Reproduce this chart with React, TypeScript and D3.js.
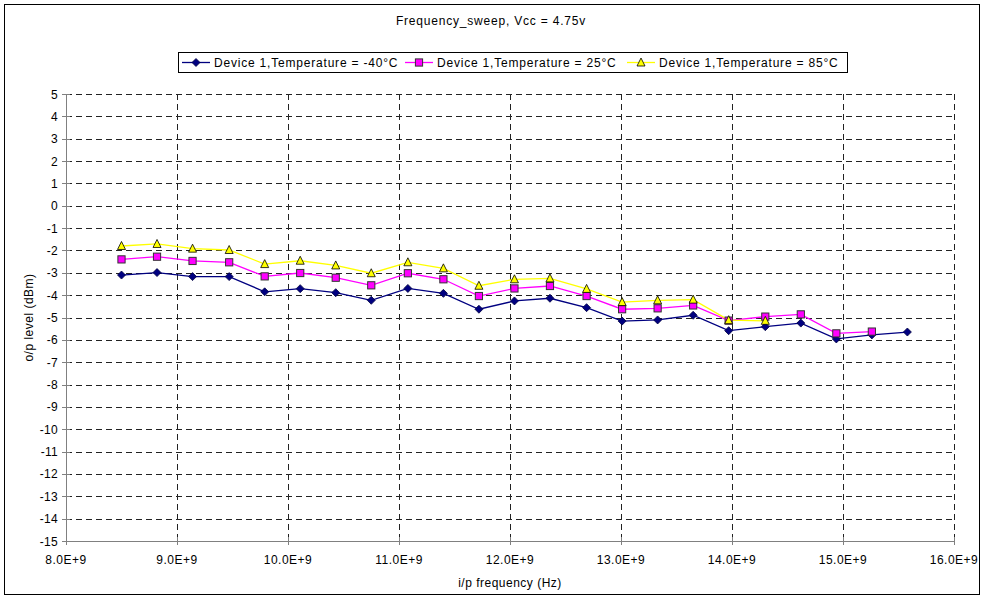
import React from "react";
import * as d3 from "d3";

const W = 982;
const H = 597;

// Input frequencies in GHz (plotted as Hz on the axis)
const freqGHz = [
  8.5, 8.82, 9.14, 9.47, 9.79, 10.11, 10.43, 10.75, 11.08, 11.4, 11.72, 12.04,
  12.36, 12.69, 13.01, 13.33, 13.65, 13.97, 14.3, 14.62, 14.94, 15.26, 15.58,
];

const tempMinus40 = [
  -3.1, -2.99, -3.17, -3.17, -3.85, -3.71, -3.89, -4.23, -3.7, -3.92, -4.63,
  -4.26, -4.14, -4.56, -5.16, -5.11, -4.9, -5.59, -5.41, -5.25, -5.96, -5.78,
  -5.65,
];

const temp25 = [
  -2.4, -2.28, -2.47, -2.53, -3.16, -3.01, -3.22, -3.56, -3.02, -3.29, -4.04,
  -3.7, -3.59, -4.04, -4.63, -4.59, -4.46, -5.14, -4.96, -4.86, -5.71, -5.63,
];

const temp85 = [
  -1.8, -1.71, -1.92, -1.98, -2.61, -2.46, -2.67, -3.02, -2.53, -2.8, -3.58,
  -3.29, -3.25, -3.72, -4.31, -4.23, -4.2, -5.12, -5.15,
];

const yTicks = d3.range(-15, 6, 1);
const xTicksGHz = d3.range(8, 17, 1);

const margin = { left: 66, right: W - 954, top: 94, bottom: H - 541 };

type Series = {
  name: string;
  values: number[];
  line: string;
  fill: string;
  stroke: string;
  marker: "diamond" | "square" | "triangle";
};

const series: Series[] = [
  {
    name: "Device 1,Temperature = -40°C",
    values: tempMinus40,
    line: "#000080",
    fill: "#000080",
    stroke: "#000040",
    marker: "diamond",
  },
  {
    name: "Device 1,Temperature = 25°C",
    values: temp25,
    line: "#FF00FF",
    fill: "#FF00FF",
    stroke: "#333333",
    marker: "square",
  },
  {
    name: "Device 1,Temperature = 85°C",
    values: temp85,
    line: "#FFFF00",
    fill: "#FFFF00",
    stroke: "#000000",
    marker: "triangle",
  },
];

function Marker({ kind, x, y, fill, stroke }: { kind: string; x: number; y: number; fill: string; stroke: string }) {
  if (kind === "diamond") {
    const r = 4;
    return (
      <path
        d={`M${x},${y - r}L${x + r},${y}L${x},${y + r}L${x - r},${y}Z`}
        fill={fill}
        stroke={stroke}
        strokeWidth={0.8}
      />
    );
  }
  if (kind === "square") {
    const r = 3.6;
    return (
      <rect x={x - r} y={y - r} width={2 * r} height={2 * r} fill={fill} stroke={stroke} strokeWidth={1} />
    );
  }
  const r = 4;
  return (
    <path
      d={`M${x},${y - r - 0.5}L${x + r},${y + r - 0.5}L${x - r},${y + r - 0.5}Z`}
      fill={fill}
      stroke={stroke}
      strokeWidth={0.8}
    />
  );
}

export default function App() {
  const x = d3
    .scaleLinear()
    .domain([8, 16])
    .range([margin.left, W - margin.right]);
  const y = d3
    .scaleLinear()
    .domain([-15, 5])
    .range([H - margin.bottom, margin.top]);

  const font = "'Liberation Sans', Arial, sans-serif";
  const x0 = x(8);
  const x1 = x(16);
  const yTop = y(5);
  const yBot = y(-15);

  const legendX = [182, 405, 627];

  return (
    <svg
      width={W}
      height={H}
      style={{ position: "absolute", left: 0, top: 0, background: "#fff" }}
      fontFamily={font}
    >
      {/* chart frame */}
      <rect x={0} y={0} width={W} height={H} fill="#fff" />
      <rect x={4.5} y={4.5} width={W - 7} height={H - 7} fill="none" stroke="#000" strokeWidth={1} />

      <text x={W / 2} y={25} textAnchor="middle" fontSize={12} letterSpacing={0.8} fill="#000">
        Frequency_sweep, Vcc = 4.75v
      </text>

      {/* gridlines */}
      {yTicks
        .filter((t) => t > -15)
        .map((t) => (
          <line
            key={"gy" + t}
            x1={x0}
            x2={x1}
            y1={Math.round(y(t)) + 0.5}
            y2={Math.round(y(t)) + 0.5}
            stroke="#222"
            strokeWidth={1}
            strokeDasharray="6,4"
          />
        ))}
      {xTicksGHz
        .filter((t) => t > 8)
        .map((t) => (
          <line
            key={"gx" + t}
            x1={Math.round(x(t)) + 0.5}
            x2={Math.round(x(t)) + 0.5}
            y1={yTop}
            y2={yBot}
            stroke="#222"
            strokeWidth={1}
            strokeDasharray="6,4"
          />
        ))}

      {/* axes */}
      <line x1={x0 + 0.5} x2={x0 + 0.5} y1={yTop} y2={yBot} stroke="#808080" strokeWidth={1} />
      <line x1={x0} x2={x1} y1={Math.round(yBot) + 0.5} y2={Math.round(yBot) + 0.5} stroke="#808080" strokeWidth={1} />
      {yTicks.map((t) => (
        <g key={"ty" + t}>
          <line
            x1={x0 - 4}
            x2={x0 + 4}
            y1={Math.round(y(t)) + 0.5}
            y2={Math.round(y(t)) + 0.5}
            stroke="#808080"
          />
          <text x={x0 - 8} y={y(t) + 4.5} textAnchor="end" fontSize={12} letterSpacing={0.3} fill="#000">
            {t}
          </text>
        </g>
      ))}
      {xTicksGHz.map((t) => (
        <g key={"tx" + t}>
          <line
            x1={Math.round(x(t)) + 0.5}
            x2={Math.round(x(t)) + 0.5}
            y1={yBot - 4}
            y2={yBot + 4}
            stroke="#808080"
          />
          <text x={x(t)} y={yBot + 23} textAnchor="middle" fontSize={12} letterSpacing={0.5} fill="#000">
            {t.toFixed(1)}E+9
          </text>
        </g>
      ))}

      <text x={x((8 + 16) / 2)} y={587} textAnchor="middle" fontSize={12} letterSpacing={0.5} fill="#000">
        i/p frequency (Hz)
      </text>
      <text
        transform={`translate(33,${(yTop + yBot) / 2}) rotate(-90)`}
        textAnchor="middle"
        fontSize={12}
        letterSpacing={0.5}
        fill="#000"
      >
        o/p level (dBm)
      </text>

      {/* series */}
      {series.map((s) => {
        const line = d3
          .line<number>()
          .x((_, i) => x(freqGHz[i]))
          .y((v) => y(v));
        return (
          <g key={s.name}>
            <path d={line(s.values) || ""} fill="none" stroke={s.line} strokeWidth={1.3} />
          </g>
        );
      })}
      {series.map((s) => (
        <g key={s.name + "m"}>
          {s.values.map((v, i) => (
            <Marker key={i} kind={s.marker} x={x(freqGHz[i])} y={y(v)} fill={s.fill} stroke={s.stroke} />
          ))}
        </g>
      ))}

      {/* legend */}
      <rect x={178.5} y={52.5} width={669} height={20} fill="#fff" stroke="#000" strokeWidth={1} />
      {series.map((s, i) => {
        const lx = legendX[i];
        const ly = 62.5;
        return (
          <g key={s.name + "lg"}>
            <line x1={lx} x2={lx + 28} y1={ly} y2={ly} stroke={s.line} strokeWidth={1.3} />
            <Marker kind={s.marker} x={lx + 14} y={ly} fill={s.fill} stroke={s.stroke} />
            <text x={lx + 32} y={ly + 4.5} fontSize={12} letterSpacing={0.8} fill="#000">
              {s.name}
            </text>
          </g>
        );
      })}
    </svg>
  );
}
